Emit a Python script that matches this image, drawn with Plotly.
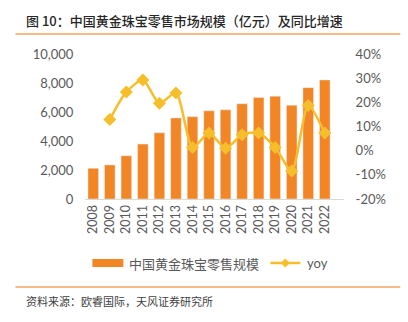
import plotly.graph_objects as go

years = [str(y) for y in range(2008, 2023)]
market_size = [2120, 2350, 2980, 3790, 4570, 5590, 5680, 6080, 6150, 6570, 7000, 7090, 6470, 7680, 8210]
yoy_years = [str(y) for y in range(2009, 2023)]
yoy = [12.9, 24.3, 29.2, 19.6, 23.9, 1.3, 7.3, 1.0, 6.6, 7.3, 1.3, -8.4, 18.7, 7.3]

left_ticks = [0, 2000, 4000, 6000, 8000, 10000]
left_labels = ["0", "2,000", "4,000", "6,000", "8,000", "10,000"]
right_ticks = [-20, -10, 0, 10, 20, 30, 40]
right_labels = ["-20%", "-10%", "0%", "10%", "20%", "30%", "40%"]

BAR = "#F28524"
LINE = "#F7BE2B"
TXT = "#595959"
FONT = "Lato"

W, H = 408, 322
L, R, T, B = 84.6, 343.7, 54, 199

def px(x):
    return (x - L) / (R - L)

def py(y):
    return (B - y) / (B - T)

fig = go.Figure()
fig.add_trace(go.Bar(x=years, y=market_size, marker_color=BAR, name="中国黄金珠宝零售规模",
                     yaxis="y"))
fig.add_trace(go.Scatter(x=yoy_years, y=yoy, mode="lines+markers", name="yoy",
                         line=dict(color=LINE, width=2.5, shape="spline", smoothing=0.7),
                         marker=dict(symbol="diamond", size=10, color=LINE),
                         yaxis="y2"))

shapes = [
    dict(type="line", xref="paper", yref="paper", x0=px(15), x1=px(400), y0=py(34), y1=py(34),
         line=dict(color="#F4A460", width=1.5)),
    dict(type="line", xref="paper", yref="paper", x0=px(15), x1=px(400), y0=py(287), y1=py(287),
         line=dict(color="#F4A460", width=1.5)),
    # legend symbols
    dict(type="rect", xref="paper", yref="paper", x0=px(92), x1=px(123), y0=py(267), y1=py(259),
         fillcolor=BAR, line=dict(width=0)),
    dict(type="line", xref="paper", yref="paper", x0=px(270), x1=px(300), y0=py(263), y1=py(263),
         line=dict(color=LINE, width=2.5)),
    dict(type="path", xref="paper", yref="paper",
         path=f"M {px(285)} {py(258.5)} L {px(289.5)} {py(263)} L {px(285)} {py(267.5)} L {px(280.5)} {py(263)} Z",
         fillcolor=LINE, line=dict(width=0)),
]

annotations = [
    dict(text="图 10：中国黄金珠宝零售市场规模（亿元）及同比增速", xref="paper", yref="paper",
         x=px(24), y=py(20), xanchor="left", yanchor="middle", showarrow=False,
         font=dict(size=13, color="#262626", family="Noto Sans CJK SC", weight=500)),
    dict(text="资料来源：欧睿国际，天风证券研究所", xref="paper", yref="paper",
         x=px(24), y=py(301), xanchor="left", yanchor="middle", showarrow=False,
         font=dict(size=11, color="#404040", family="Noto Sans CJK SC")),
    dict(text="中国黄金珠宝零售规模", xref="paper", yref="paper",
         x=px(127), y=py(263), xanchor="left", yanchor="middle", showarrow=False,
         font=dict(size=13, color=TXT, family="Noto Sans CJK SC")),
    dict(text="yoy", xref="paper", yref="paper",
         x=px(305), y=py(263), xanchor="left", yanchor="middle", showarrow=False,
         font=dict(size=13, color=TXT, family=FONT)),
]

fig.update_layout(
    width=W, height=H,
    margin=dict(l=L, r=W - R, t=T, b=H - B, pad=0),
    paper_bgcolor="white", plot_bgcolor="white",
    showlegend=False,
    bargap=0.36,
    font=dict(family=FONT, color=TXT, size=13),
    xaxis=dict(type="category", tickangle=-90, showline=True, linecolor="#D9D9D9", linewidth=1,
               ticks="", showgrid=False, tickfont=dict(size=12.5, color=TXT), zeroline=False),
    yaxis=dict(range=[0, 10000], tickvals=left_ticks, ticktext=left_labels, showgrid=False,
               zeroline=False, showline=False, ticks="outside", ticklen=8, tickcolor="rgba(0,0,0,0)",
               tickfont=dict(size=13, color=TXT)),
    yaxis2=dict(range=[-20, 40], tickvals=right_ticks, ticktext=right_labels, overlaying="y",
                side="right", showgrid=False, zeroline=False, showline=False,
                ticks="outside", ticklen=8, tickcolor="rgba(0,0,0,0)",
                tickfont=dict(size=13, color=TXT)),
    shapes=shapes,
    annotations=annotations,
)

fig.write_html("out.html")
